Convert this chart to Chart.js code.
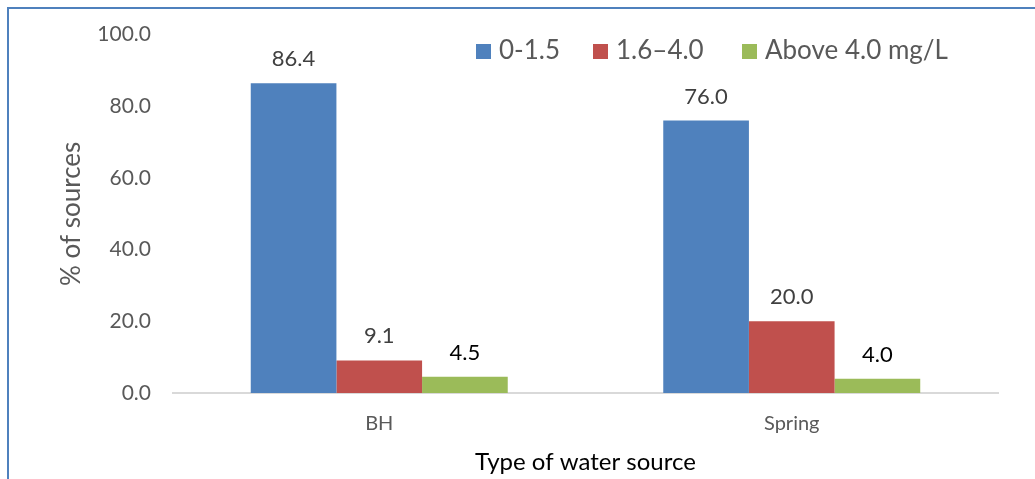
<!DOCTYPE html>
<html lang="en">
<head>
  <meta charset="UTF-8">
  <title>Fluoride levels by type of water source</title>
  <script src="https://cdn.jsdelivr.net/npm/chart.js"></script>
  <style>
    html, body { margin: 0; padding: 0; background: #fff; }
    .wrap { position: relative; width: 1035px; height: 479px; }
  </style>
</head>
<body>
  <div class="wrap">
    <canvas id="chart" width="1035" height="479"></canvas>
  </div>
  <script>
    const categories = ['BH', 'Spring'];
    const seriesLabels = ['0-1.5', '1.6\u20134.0', 'Above 4.0 mg/L'];
    const low = [86.4, 76.0];
    const mid = [9.1, 20.0];
    const high = [4.5, 4.0];
    const yTicks = [0, 20, 40, 60, 80, 100];

    const colors = ['#4F81BD', '#C0504D', '#9BBB59'];
    const labelColors = ['#404040', '#404040', '#000000'];
    const FONT = 'Lato, "Open Sans", sans-serif';
    // left edge of each legend swatch
    const legendSlots = [476, 593, 742];

    // frame around the chart, like the office export
    const framePlugin = {
      id: 'frame',
      beforeDraw(chart) {
        const ctx = chart.ctx;
        ctx.save();
        ctx.fillStyle = '#fff';
        ctx.fillRect(0, 0, chart.width, chart.height);
        ctx.strokeStyle = '#4F81BD';
        ctx.lineWidth = 2;
        ctx.beginPath();
        ctx.moveTo(8, chart.height + 2);
        ctx.lineTo(8, 8);
        ctx.lineTo(chart.width + 2, 8);
        ctx.stroke();
        ctx.restore();
      }
    };

    // numbers above each bar
    const valueLabels = {
      id: 'valueLabels',
      afterDatasetsDraw(chart) {
        const ctx = chart.ctx;
        ctx.save();
        ctx.font = '22px ' + FONT;
        ctx.textAlign = 'center';
        ctx.textBaseline = 'middle';
        chart.data.datasets.forEach((ds, i) => {
          chart.getDatasetMeta(i).data.forEach((bar, j) => {
            ctx.fillStyle = labelColors[i];
            ctx.fillText(ds.data[j].toFixed(1), bar.x, bar.y - 24);
          });
        });
        ctx.restore();
      }
    };

    // legend sits inside the plot, top right
    const insideLegend = {
      id: 'insideLegend',
      afterDraw(chart) {
        const ctx = chart.ctx;
        ctx.save();
        ctx.font = '26px ' + FONT;
        ctx.textBaseline = 'middle';
        const y = 51;
        chart.data.datasets.forEach((ds, i) => {
          const x = legendSlots[i];
          ctx.fillStyle = ds.backgroundColor;
          ctx.fillRect(x, y - 7, 15, 15);
          ctx.fillStyle = '#595959';
          ctx.fillText(ds.label, x + 23, y);
        });
        ctx.restore();
      }
    };

    new Chart(document.getElementById('chart'), {
      type: 'bar',
      data: {
        labels: categories,
        datasets: [
          { label: seriesLabels[0], data: low, backgroundColor: colors[0] },
          { label: seriesLabels[1], data: mid, backgroundColor: colors[1] },
          { label: seriesLabels[2], data: high, backgroundColor: colors[2] }
        ]
      },
      options: {
        responsive: false,
        animation: false,
        layout: { padding: { top: 31, right: 37, left: 0, bottom: 0 } },
        datasets: { bar: { categoryPercentage: 0.623, barPercentage: 1.0 } },
        plugins: {
          legend: { display: false },
          tooltip: { enabled: false }
        },
        scales: {
          x: {
            grid: { display: false, drawTicks: false },
            border: { display: true, color: '#D9D9D9', width: 2 },
            ticks: { color: '#595959', font: { family: FONT, size: 20 }, padding: 19 },
            title: {
              display: true, text: 'Type of water source', color: '#000',
              font: { family: FONT, size: 24 }, padding: { top: 0, bottom: 2 }
            },
            afterFit(scale) { scale.height = 86; }
          },
          y: {
            min: 0, max: 100,
            afterBuildTicks(scale) { scale.ticks = yTicks.map(v => ({ value: v })); },
            grid: { display: false, drawTicks: false },
            border: { display: false },
            ticks: {
              color: '#595959', font: { family: FONT, size: 21 }, padding: 22,
              callback: v => Number(v).toFixed(1)
            },
            title: {
              display: true, text: '% of sources', color: '#595959',
              font: { family: FONT, size: 26 }, padding: { top: 56, bottom: 0 }
            },
            afterFit(scale) { scale.width = 173; }
          }
        }
      },
      plugins: [framePlugin, valueLabels, insideLegend]
    });
  </script>
</body>
</html>
